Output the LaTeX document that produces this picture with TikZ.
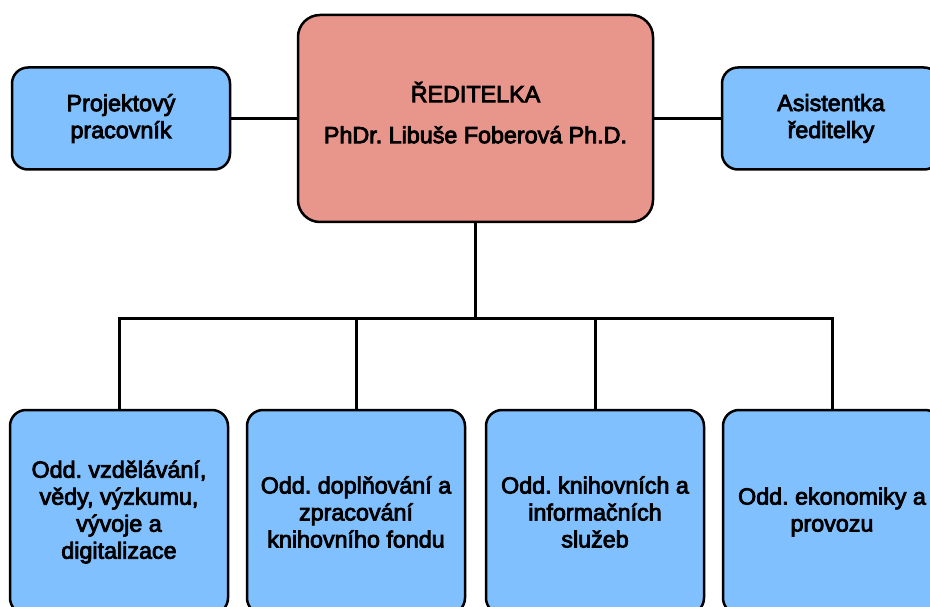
\documentclass[tikz,border=0pt]{standalone}
\usepackage{fontspec}
\setmainfont{Liberation Sans}
\newfontface\orgfont{Liberation Sans}[FakeBold=3.5]
\usetikzlibrary{positioning}
\definecolor{headpink}{RGB}{232,150,140}
\definecolor{unitblue}{RGB}{128,192,255}
\tikzstyle{head} = [rectangle, rounded corners=22pt, minimum width=355pt, minimum height=207pt, align=center, draw=black, line width=2.5pt, fill=headpink]
\tikzstyle{side} = [rectangle, rounded corners=16pt, minimum width=218pt, minimum height=102pt, align=center, draw=black, line width=2.5pt, fill=unitblue]
\tikzstyle{dept} = [rectangle, rounded corners=16pt, minimum width=218pt, minimum height=204pt, align=center, draw=black, line width=2.5pt, fill=unitblue]
\tikzstyle{link} = [line width=3pt]

\begin{document}
\begin{tikzpicture}[x=1pt, y=-1pt, font=\orgfont\frenchspacing\fontsize{23.3}{27}\selectfont]
        \clip (0,0) rectangle (930,607);
        \useasboundingbox (0,0) rectangle (930,607);
        \node (director) [head] at (475.5,118.5) {ŘEDITELKA\\[14pt]PhDr. Libuše Foberová Ph.D.\\[-15pt]\mbox{}};
        \node (project) [side, left=65.5pt of director] {Projektový\\pracovník};
        \node (assistant) [side, right=66.5pt of director] {Asistentka\\ředitelky};
        \node (dept1) [dept] at (119,512) {Odd. vzdělávání,\\vědy, výzkumu,\\vývoje a\\digitalizace};
        \node (dept2) [dept, right=16.5pt of dept1] {Odd. doplňování a\\zpracování\\knihovního fondu};
        \node (dept3) [dept, right=18.5pt of dept2] {Odd. knihovních a\\informačních\\služeb};
        \node (dept4) [dept, right=16.5pt of dept3] {Odd. ekonomiky a\\provozu};
        \coordinate (bus) at (475.5,318);

        \draw [link] (project) -- (director);
        \draw [link] (director) -- (assistant);
        \draw [link] (director.south) -- (bus);
        \draw [link] (dept1.north) |- (dept4.north |- bus) -- (dept4.north);
        \draw [link] (dept2.north) -- (dept2.north |- bus);
        \draw [link] (dept3.north) -- (dept3.north |- bus);

\end{tikzpicture}
\end{document}
